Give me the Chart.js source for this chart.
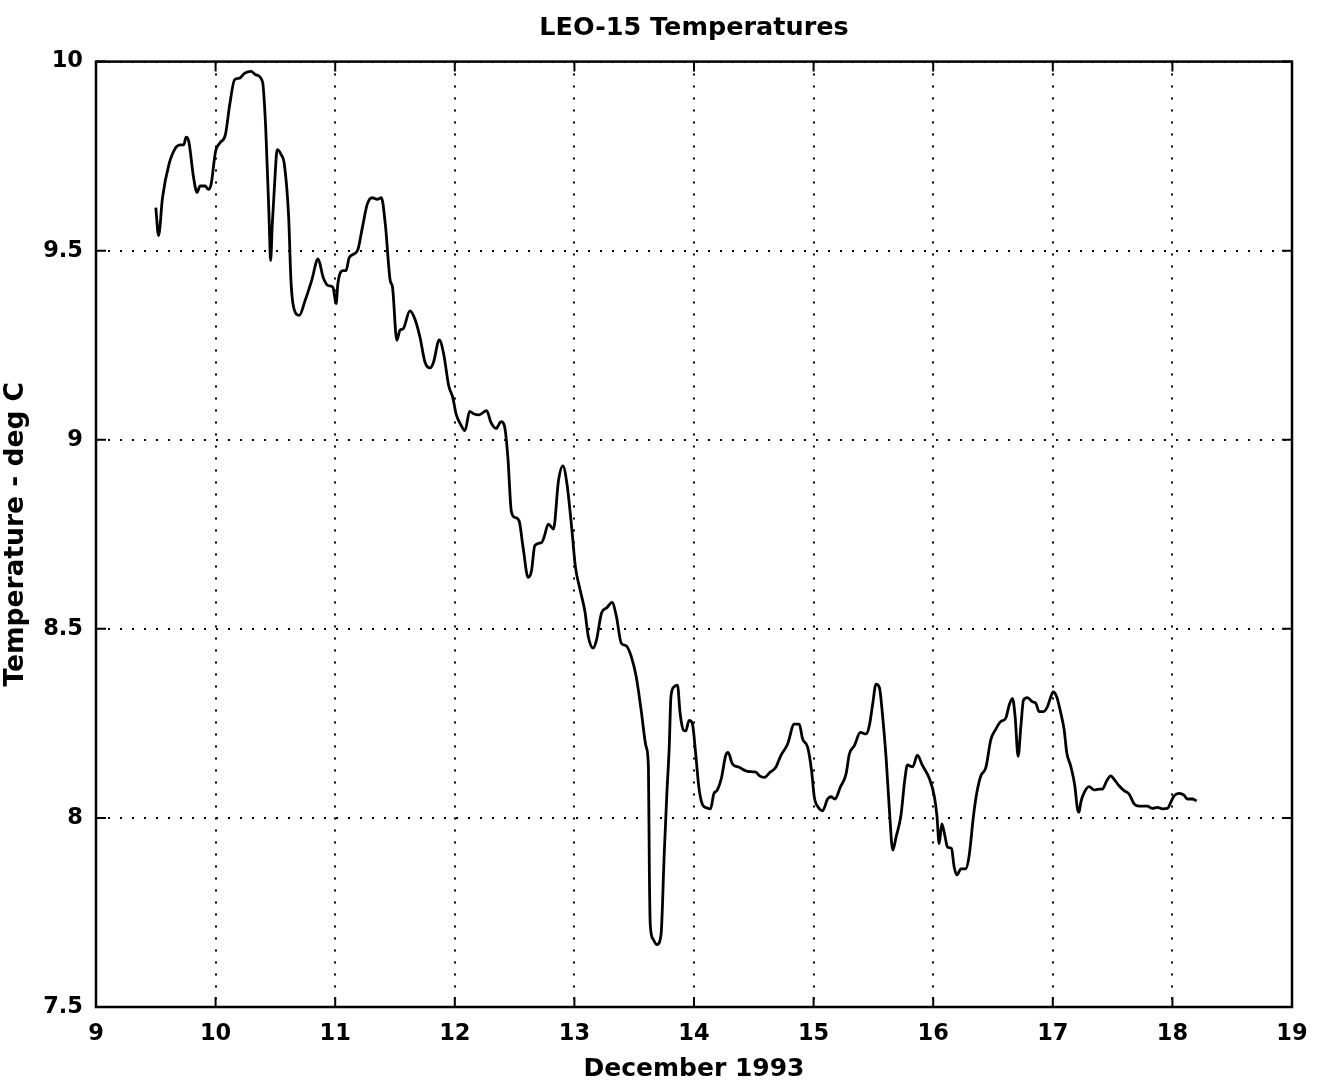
<!DOCTYPE html>
<html>
<head>
<meta charset="utf-8">
<title>LEO-15 Temperatures</title>
<script src="https://cdn.jsdelivr.net/npm/chart.js@4/dist/chart.umd.min.js"></script>
<style>
  html, body { margin: 0; padding: 0; background: #fff; }
  canvas { display: block; }
</style>
</head>
<body>
<canvas id="chart" width="1318" height="1089"></canvas>
<script>
// Time in days of December 1993 (decimal day of month)
const days = [
  9.500, 9.523, 9.556, 9.610, 9.666, 9.707, 9.734, 9.753, 9.775, 9.816,
  9.844, 9.871, 9.912, 9.940, 9.962, 10.000, 10.036, 10.082, 10.118, 10.159,
  10.200, 10.241, 10.296, 10.337, 10.392, 10.419, 10.447, 10.460, 10.474, 10.493,
  10.515, 10.548, 10.575, 10.611, 10.630, 10.652, 10.700, 10.748, 10.803, 10.857,
  10.899, 10.940, 10.980, 11.008, 11.022, 11.063, 11.090, 11.118, 11.186, 11.227,
  11.268, 11.310, 11.351, 11.386, 11.419, 11.460, 11.479, 11.515, 11.542, 11.568,
  11.624, 11.667, 11.709, 11.751, 11.794, 11.822, 11.870, 11.907, 11.949, 11.983,
  12.011, 12.048, 12.085, 12.124, 12.161, 12.203, 12.266, 12.302, 12.345, 12.387,
  12.415, 12.444, 12.472, 12.500, 12.537, 12.571, 12.613, 12.641, 12.669, 12.726,
  12.746, 12.782, 12.825, 12.867, 12.904, 12.938, 12.980, 13.008, 13.047, 13.088,
  13.116, 13.157, 13.185, 13.227, 13.268, 13.315, 13.351, 13.392, 13.434, 13.475,
  13.517, 13.558, 13.600, 13.619, 13.627, 13.634, 13.657, 13.690, 13.724, 13.751,
  13.773, 13.793, 13.807, 13.834, 13.862, 13.884, 13.912, 13.931, 13.959, 13.986,
  14.014, 14.041, 14.069, 14.110, 14.138, 14.166, 14.193, 14.229, 14.265, 14.285,
  14.321, 14.377, 14.447, 14.517, 14.545, 14.587, 14.637, 14.684, 14.726, 14.782,
  14.838, 14.880, 14.908, 14.950, 14.983, 15.006, 15.039, 15.075, 15.117, 15.145,
  15.179, 15.223, 15.271, 15.299, 15.341, 15.391, 15.439, 15.466, 15.494, 15.522,
  15.550, 15.578, 15.606, 15.634, 15.662, 15.690, 15.731, 15.762, 15.785, 15.829,
  15.868, 15.908, 15.968, 16.010, 16.031, 16.050, 16.072, 16.097, 16.120, 16.153,
  16.175, 16.198, 16.231, 16.273, 16.301, 16.337, 16.365, 16.398, 16.440, 16.482,
  16.524, 16.565, 16.607, 16.635, 16.663, 16.685, 16.710, 16.733, 16.755, 16.788,
  16.830, 16.858, 16.886, 16.922, 16.955, 16.983, 17.003, 17.033, 17.067, 17.095,
  17.117, 17.150, 17.184, 17.206, 17.220, 17.234, 17.262, 17.304, 17.345, 17.387,
  17.415, 17.451, 17.485, 17.513, 17.554, 17.596, 17.638, 17.680, 17.721, 17.791,
  17.833, 17.875, 17.916, 17.958, 17.986, 18.014, 18.056, 18.097, 18.125, 18.167,
  18.203
];

// Water temperature, deg C
const temps = [
  9.614, 9.540, 9.640, 9.728, 9.772, 9.780, 9.780, 9.800, 9.790, 9.693,
  9.654, 9.671, 9.671, 9.662, 9.675, 9.763, 9.785, 9.807, 9.886, 9.952,
  9.956, 9.969, 9.974, 9.965, 9.947, 9.825, 9.588, 9.474, 9.570, 9.675,
  9.767, 9.754, 9.728, 9.588, 9.421, 9.351, 9.329, 9.368, 9.421, 9.478,
  9.430, 9.408, 9.404, 9.360, 9.412, 9.447, 9.447, 9.482, 9.500, 9.561,
  9.623, 9.640, 9.636, 9.640, 9.570, 9.421, 9.404, 9.263, 9.290, 9.293,
  9.341, 9.319, 9.271, 9.205, 9.190, 9.205, 9.264, 9.227, 9.143, 9.112,
  9.068, 9.041, 9.024, 9.075, 9.068, 9.066, 9.077, 9.046, 9.030, 9.048,
  9.037, 8.953, 8.812, 8.795, 8.786, 8.715, 8.636, 8.653, 8.720, 8.728,
  8.742, 8.777, 8.764, 8.892, 8.931, 8.883, 8.759, 8.665, 8.604, 8.546,
  8.480, 8.449, 8.471, 8.542, 8.555, 8.570, 8.533, 8.462, 8.455, 8.427,
  8.373, 8.285, 8.188, 8.134, 7.850, 7.720, 7.680, 7.665, 7.690, 7.904,
  8.064, 8.188, 8.320, 8.347, 8.351, 8.276, 8.232, 8.230, 8.258, 8.250,
  8.170, 8.080, 8.037, 8.026, 8.024, 8.064, 8.073, 8.105, 8.165, 8.173,
  8.143, 8.134, 8.123, 8.121, 8.112, 8.107, 8.121, 8.134, 8.165, 8.195,
  8.248, 8.248, 8.209, 8.187, 8.125, 8.055, 8.028, 8.019, 8.050, 8.056,
  8.050, 8.081, 8.116, 8.169, 8.191, 8.226, 8.222, 8.244, 8.301, 8.354,
  8.345, 8.266, 8.160, 8.020, 7.915, 7.950, 8.008, 8.100, 8.140, 8.135,
  8.166, 8.140, 8.104, 8.056, 8.006, 7.932, 7.984, 7.954, 7.923, 7.919,
  7.871, 7.849, 7.865, 7.866, 7.901, 8.006, 8.067, 8.111, 8.133, 8.207,
  8.235, 8.255, 8.264, 8.298, 8.316, 8.268, 8.163, 8.242, 8.312, 8.318,
  8.307, 8.303, 8.281, 8.281, 8.294, 8.320, 8.333, 8.320, 8.277, 8.233,
  8.172, 8.137, 8.085, 8.024, 8.015, 8.041, 8.067, 8.083, 8.074, 8.076,
  8.076, 8.098, 8.111, 8.102, 8.085, 8.072, 8.063, 8.037, 8.031, 8.031,
  8.025, 8.028, 8.024, 8.025, 8.041, 8.058, 8.065, 8.060, 8.050, 8.050,
  8.045
];

// Axis tick labels
const xTickLabels = ['9', '10', '11', '12', '13', '14', '15', '16', '17', '18', '19'];
const yTickLabels = ['7.5', '8', '8.5', '9', '9.5', '10'];

const FONT = "'DejaVu Sans', 'Liberation Sans', sans-serif";

// Closed box around the plot area with short inward tick marks on all four sides
const framePlugin = {
  id: 'frame',
  afterDatasetsDraw(chart) {
    const { ctx, chartArea: a, scales: { x, y } } = chart;
    const len = 10;
    ctx.save();
    ctx.strokeStyle = '#000';
    ctx.lineWidth = 2.5;
    ctx.strokeRect(a.left, a.top, a.right - a.left, a.bottom - a.top);
    ctx.lineWidth = 2;
    ctx.beginPath();
    x.ticks.forEach(t => {
      const px = x.getPixelForValue(t.value);
      ctx.moveTo(px, a.bottom); ctx.lineTo(px, a.bottom - len);
      ctx.moveTo(px, a.top); ctx.lineTo(px, a.top + len);
    });
    y.ticks.forEach(t => {
      const py = y.getPixelForValue(t.value);
      ctx.moveTo(a.left, py); ctx.lineTo(a.left + len, py);
      ctx.moveTo(a.right, py); ctx.lineTo(a.right - len, py);
    });
    ctx.stroke();
    ctx.restore();
  }
};

new Chart(document.getElementById('chart'), {
  type: 'line',
  data: {
    datasets: [{
      data: days.map((d, i) => ({ x: d, y: temps[i] })),
      borderColor: '#000',
      borderWidth: 2.8,
      pointRadius: 0,
      fill: false,
      cubicInterpolationMode: 'monotone'
    }]
  },
  options: {
    responsive: false,
    animation: false,
    events: [],
    layout: { padding: { left: 0, right: 0, top: 0, bottom: 0 } },
    plugins: {
      legend: { display: false },
      tooltip: { enabled: false },
      title: {
        display: true,
        text: 'LEO-15 Temperatures',
        fullSize: false,
        color: '#000',
        font: { family: FONT, size: 25.5, weight: 'bold', lineHeight: 1.2 },
        padding: { top: 13.5, bottom: 17.5 }
      }
    },
    scales: {
      x: {
        type: 'linear',
        min: 9,
        max: 19,
        afterFit(scale) {
          scale.height = 82;
          scale.paddingLeft = 10;
          scale.paddingRight = 26;
        },
        ticks: {
          stepSize: 1,
          color: '#000',
          padding: 14,
          maxRotation: 0,
          font: { family: FONT, size: 22.5, weight: 'bold', lineHeight: 1.2 },
          callback: (v, i) => xTickLabels[i]
        },
        grid: { color: '#000', lineWidth: 2, drawTicks: false },
        border: { display: false, dash: [2, 10] },
        title: {
          display: true,
          text: 'December 1993',
          color: '#000',
          font: { family: FONT, size: 25, weight: 'bold', lineHeight: 1.2 },
          padding: { top: 5, bottom: 5 }
        }
      },
      y: {
        type: 'linear',
        min: 7.5,
        max: 10,
        afterFit(scale) { scale.width = 96; },
        ticks: {
          stepSize: 0.5,
          color: '#000',
          padding: 13,
          font: { family: FONT, size: 22.5, weight: 'bold', lineHeight: 1.2 },
          callback: (v, i) => yTickLabels[i]
        },
        grid: { color: '#000', lineWidth: 2, drawTicks: false },
        border: { display: false, dash: [2, 10] },
        title: {
          display: true,
          text: 'Temperature - deg C',
          color: '#000',
          font: { family: FONT, size: 26.5, weight: 'bold', lineHeight: 1.2 },
          padding: { top: 0, bottom: 0 }
        }
      }
    }
  },
  plugins: [framePlugin]
});
</script>
</body>
</html>
